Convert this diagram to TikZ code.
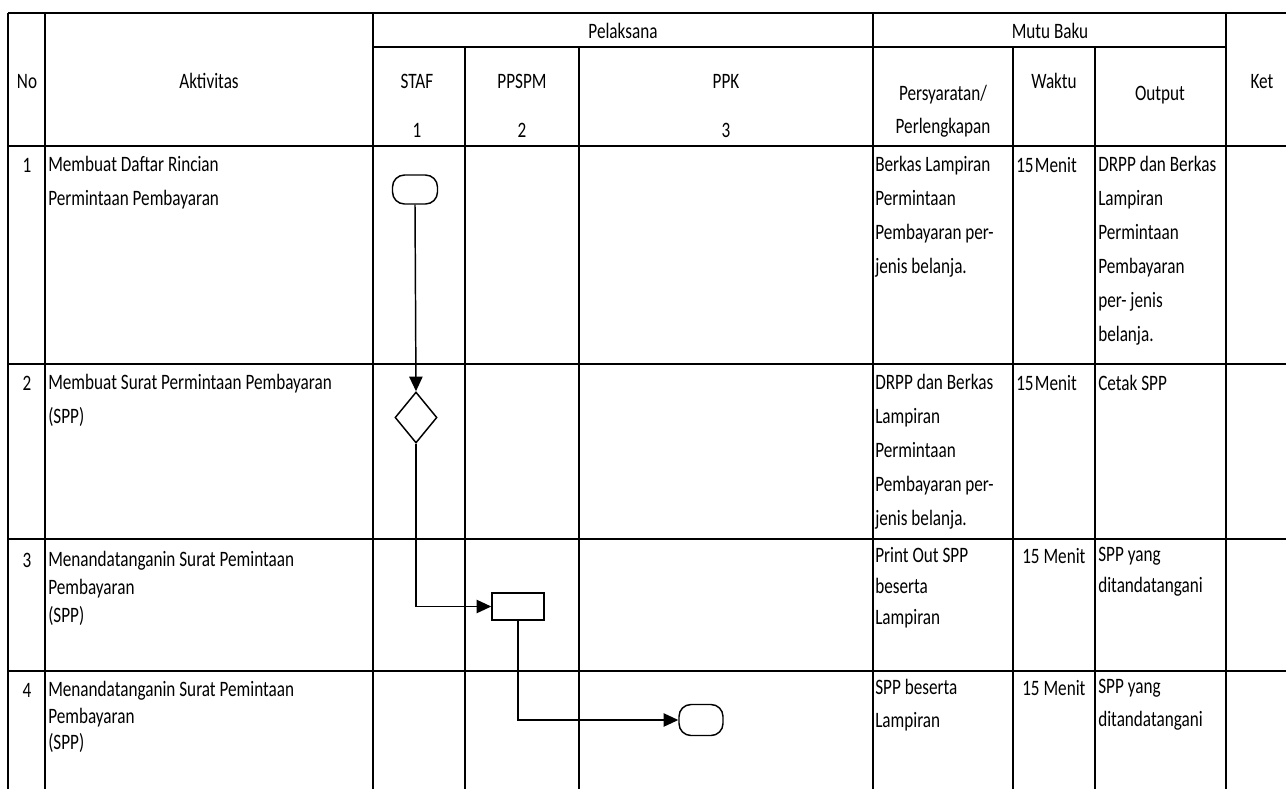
\documentclass[tikz,border=0pt]{standalone}
\usepackage{fontspec}
\setmainfont{Carlito}[FakeStretch=0.78]
\usetikzlibrary{shapes.geometric,arrows.meta}
\begin{document}
\begin{tikzpicture}[x=0.75pt,y=-0.75pt,
  hl/.style={line width=2pt},
  vl/.style={line width=1pt},
  txt/.style={anchor=north west,inner sep=0pt,align=left,font=\fontsize{16.5}{#1}\selectfont,execute at begin node={\rule{0pt}{12pt}}},
  txt/.default=25.5,
  hd/.style={anchor=base,inner sep=0pt,font=\fontsize{16.5}{20}\selectfont},
  shp/.style={draw,line width=1.1pt,inner sep=0pt},
  term/.style={shp,rectangle,rounded corners=9pt},
  proc/.style={shp,rectangle},
  dec/.style={shp,diamond},
  arr/.style={line width=1.1pt,-{Triangle[length=11pt,width=10pt]}}
]
\useasboundingbox (0,0) rectangle (1286,789);
% table lines
\draw[hl] (8,13) -- (1286,13);
\draw[hl] (373,47) -- (1226,47);
\draw[hl] (8,146) -- (1286,146);
\draw[hl] (8,364) -- (1286,364);
\draw[hl] (8,539) -- (1286,539);
\draw[hl] (8,671) -- (1286,671);
\draw[line width=1.6pt] (8,13) -- (8,789);
\draw[vl] (45,13) -- (45,789);
\draw[vl] (373,13) -- (373,789);
\draw[vl] (465,47) -- (465,789);
\draw[vl] (579,47) -- (579,789);
\draw[vl] (873,13) -- (873,789);
\draw[vl] (1013,47) -- (1013,789);
\draw[vl] (1095,47) -- (1095,789);
\draw[vl] (1226,13) -- (1226,789);
% header
\node[hd] (hpel) at (623,38) {Pelaksana};
\node[hd] (hmutu) at (1050,38) {Mutu Baku};
\node[hd] (hno) at (27,88) {No};
\node[hd] (hakt) at (209,88) {Aktivitas};
\node[hd] (hstaf) at (417,88) {STAF};
\node[hd] (hppspm) at (522,88) {PPSPM};
\node[hd] (hppk) at (726,88) {PPK};
\node[hd] (h1) at (417,137) {1};
\node[hd] (h2) at (522,137) {2};
\node[hd] (h3) at (726,137) {3};
\node[hd] (hpers) at (943,100) {Persyaratan/};
\node[hd] (hperl) at (943,133) {Perlengkapan};
\node[hd] (hwaktu) at (1054,88) {Waktu};
\node[hd] (hout) at (1160,100) {Output};
\node[hd] (hket) at (1262,88) {Ket};
% row 1
\node[hd] (n1) at (27,172) {1};
\node[txt] (a1) at (48,156) {Membuat Daftar Rincian\\Permintaan Pembayaran};
\node[txt] (p1) at (875,156) {Berkas Lampiran\\Permintaan\\Pembayaran per-\\jenis belanja.};
\node[txt] (w1) at (1016,156) {15\hspace{-2pt} Menit};
\node[txt] (o1) at (1098,156) {DRPP dan Berkas\\Lampiran\\Permintaan\\Pembayaran\\per- jenis\\belanja.};
% row 2
\node[hd] (n2) at (27,390) {2};
\node[txt] (a2) at (48,374) {Membuat Surat Permintaan Pembayaran\\(SPP)};
\node[txt] (p2) at (875,374) {DRPP dan Berkas\\Lampiran\\Permintaan\\Pembayaran per-\\jenis belanja.};
\node[txt] (w2) at (1016,374) {15\hspace{-2pt} Menit};
\node[txt] (o2) at (1098,374) {Cetak SPP};
% row 3
\node[hd] (n3) at (27,567) {3};
\node[txt=21] (a3) at (48,551) {Menandatanganin Surat Pemintaan\\Pembayaran\\(SPP)};
\node[txt=23.25] (p3) at (875,547) {Print Out SPP\\beserta\\Lampiran};
\node[txt] (w3) at (1022,547) {15 Menit};
\node[txt=23.25] (o3) at (1098,547) {SPP yang\\ditandatangani};
% row 4
\node[hd] (n4) at (27,697) {4};
\node[txt=20] (a4) at (48,681) {Menandatanganin Surat Pemintaan\\Pembayaran\\(SPP)};
\node[txt=24.75] (p4) at (875,679) {SPP beserta\\Lampiran};
\node[txt] (w4) at (1022,679) {15 Menit};
\node[txt=24.75] (o4) at (1098,679) {SPP yang\\ditandatangani};
% flow shapes
\node[term,minimum width=33.75pt,minimum height=21.75pt] (t1) at (415,189.5) {};
\node[dec,minimum width=31.5pt,minimum height=38.25pt] (d2) at (416,417.5) {};
\node[proc,minimum width=39pt,minimum height=20.25pt] (r3) at (518,606.5) {};
\node[term,minimum width=33pt,minimum height=23.25pt] (t4) at (701,720) {};
% connectors
\draw[arr] (t1.south) -- (d2.north);
\draw[arr] (d2.south) |- (r3.west);
\draw[arr] (r3.south) |- (t4.west);
\end{tikzpicture}
\end{document}
